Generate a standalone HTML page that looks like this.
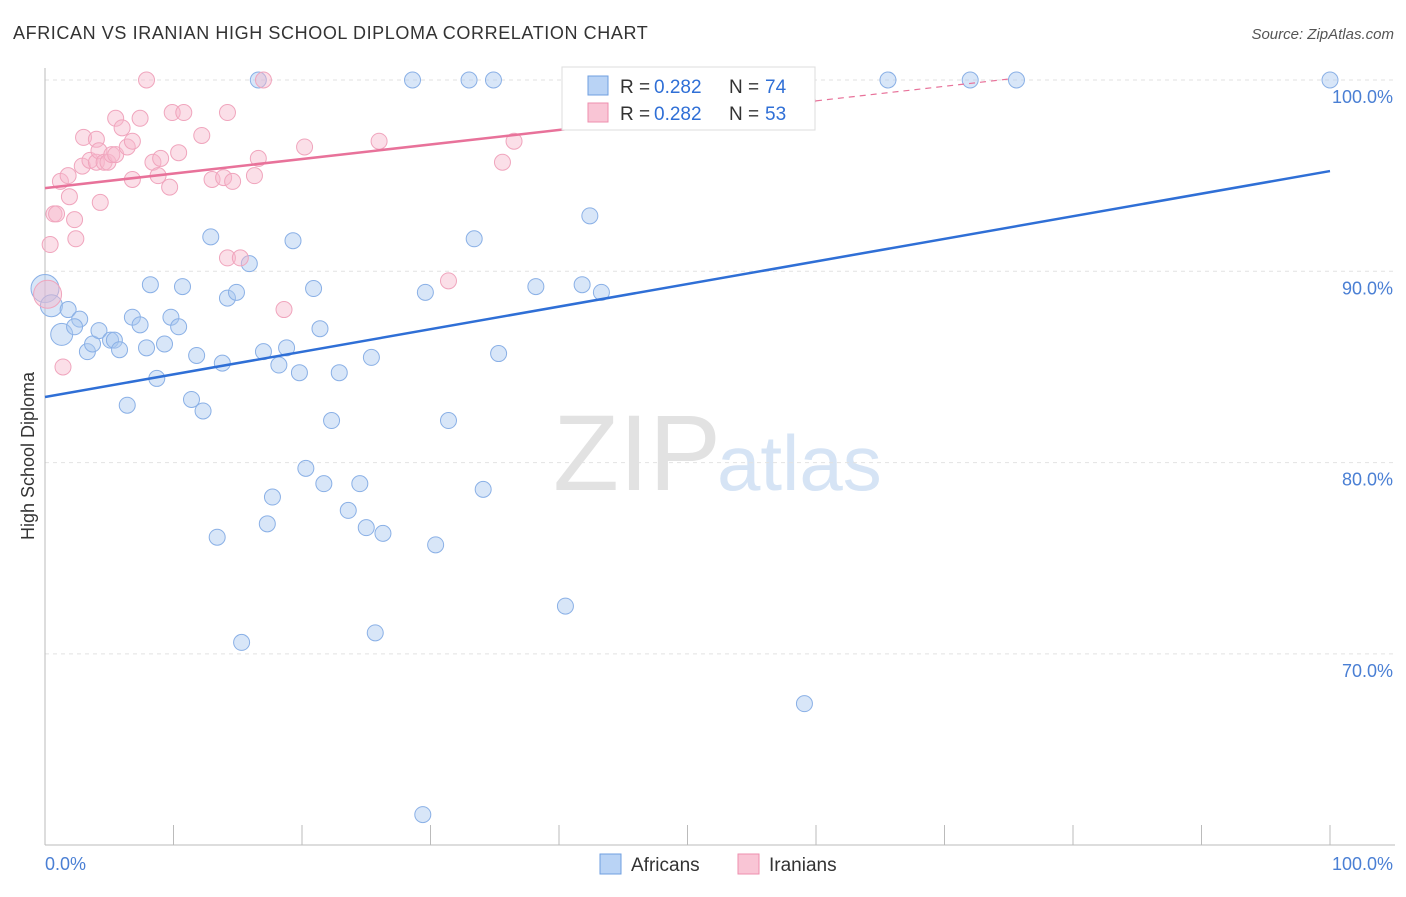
<!DOCTYPE html>
<html><head><meta charset="utf-8"><style>
body{margin:0;background:#fff;font-family:"Liberation Sans",sans-serif;}
svg text{font-family:"Liberation Sans",sans-serif;}
</style></head><body>
<svg id="c" width="1406" height="892">
<text x="13" y="39" font-size="18" fill="#333" letter-spacing="0.6">AFRICAN VS IRANIAN HIGH SCHOOL DIPLOMA CORRELATION CHART</text>
<text x="1394" y="39" font-size="15" fill="#555" font-style="italic" text-anchor="end">Source: ZipAtlas.com</text>
<text x="34" y="456" font-size="18" fill="#333" text-anchor="middle" transform="rotate(-90 34 456)">High School Diploma</text>
<g>
<text x="553" y="490" font-size="108" fill="#e2e2e2" font-family="Liberation Serif">ZIP</text>
<text x="717" y="490" font-size="78" fill="#d6e4f5">atlas</text>
</g>
<g id="grid"></g><g id="pts"></g><g id="lines"></g>
<g>
<rect x="562" y="67" width="253" height="63" fill="#fff" stroke="#ddd"/>
<rect x="588" y="76" width="20" height="19" fill="#b9d3f5" stroke="#6f9fe0"/>
<rect x="588" y="103" width="20" height="19" fill="#f9c5d5" stroke="#ee8fae"/>
<g font-size="19">
<text x="620" y="93" fill="#333">R =</text><text x="654" y="93" fill="#2f6fd6">0.282</text>
<text x="729" y="93" fill="#333">N =</text><text x="765" y="93" fill="#2f6fd6">74</text></g>
<g font-size="19">
<text x="620" y="120" fill="#333">R =</text><text x="654" y="120" fill="#2f6fd6">0.282</text>
<text x="729" y="120" fill="#333">N =</text><text x="765" y="120" fill="#2f6fd6">53</text></g>
</g>
<g>
<rect x="600" y="854" width="21" height="20" fill="#b9d3f5" stroke="#6f9fe0"/>
<text x="631" y="871" font-size="19" fill="#333">Africans</text>
<rect x="738" y="854" width="21" height="20" fill="#f9c5d5" stroke="#ee8fae"/>
<text x="769" y="871" font-size="19" fill="#333">Iranians</text>
</g>
</svg>
<script>
const yTicks=[100,90,80,70];
const yTickLabels=["100.0%","90.0%","80.0%","70.0%"];
const africanX=[0,0.5,1.3,1.8,2.7,2.3,3.3,3.7,4.2,5.1,5.4,5.8,6.4,6.8,7.4,7.9,8.2,8.7,9.3,9.8,10.4,10.7,11.4,11.8,12.3,12.9,13.4,13.8,14.2,14.9,15.3,15.9,16.6,17.0,17.3,17.7,18.2,18.8,19.3,19.8,20.3,20.9,21.4,21.7,22.3,22.9,23.6,24.5,25.0,25.4,25.7,26.3,28.6,29.4,29.6,30.4,31.4,33.0,33.4,34.1,34.9,35.3,38.2,40.5,41.8,42.4,43.3,52.3,55.5,59.1,65.6,72.0,75.6,100];
const africanY=[89.1,88.2,86.7,88.0,87.5,87.1,85.8,86.2,86.9,86.4,86.4,85.9,83.0,87.6,87.2,86.0,89.3,84.4,86.2,87.6,87.1,89.2,83.3,85.6,82.7,91.8,76.1,85.2,88.6,88.9,70.6,90.4,100,85.8,76.8,78.2,85.1,86.0,91.6,84.7,79.7,89.1,87.0,78.9,82.2,84.7,77.5,78.9,76.6,85.5,71.1,76.3,100,61.6,88.9,75.7,82.2,100,91.7,78.6,100,85.7,89.2,72.5,89.3,92.9,88.9,100,99.1,67.4,100,100,100,100];
const iranianX=[0.2,0.4,0.7,0.9,1.4,1.2,1.8,1.9,2.3,2.4,3.0,2.9,3.5,4.0,4.0,4.3,4.2,4.6,4.9,5.2,5.5,5.5,6.0,6.4,6.8,6.8,7.4,7.9,8.4,8.8,9.0,9.7,9.9,10.4,10.8,12.2,13.0,13.9,14.2,14.2,14.6,15.2,16.3,16.6,17.0,18.6,20.2,26.0,31.4,35.6,36.5];
const iranianY=[88.8,91.4,93.0,93.0,85.0,94.7,95.0,93.9,92.7,91.7,97.0,95.5,95.8,96.9,95.7,93.6,96.3,95.7,95.7,96.1,98.0,96.1,97.5,96.5,94.8,96.8,98.0,100,95.7,95.0,95.9,94.4,98.3,96.2,98.3,97.1,94.8,94.9,98.3,90.7,94.7,90.7,95.0,95.9,100,88.0,96.5,96.8,89.5,95.7,96.8];
const africanTrend=[83.43,95.24];
const iranianTrend=[94.35,101.95];
const X=v=>45+v*12.85, Y=v=>80+(100-v)*19.13;
const NS="http://www.w3.org/2000/svg";
function mk(t,a,p){const e=document.createElementNS(NS,t);for(const k in a)e.setAttribute(k,a[k]);p.appendChild(e);return e;}
const g=document.getElementById('grid');
yTicks.forEach((t,i)=>{
 const l=mk('line',{x1:45,x2:1395,y1:Y(t),y2:Y(t),stroke:'#e2e2e2','stroke-dasharray':'4,4'},g);
 
 
 const tx=mk('text',{x:1393,y:Y(t)+23,'font-size':18,fill:'#4a7fd4','text-anchor':'end'},g);
 tx.textContent=yTickLabels[i];
 
 
});
const ax=mk('line',{x1:45,x2:45,y1:68,y2:845,stroke:'#bbb'},g);


const bx=mk('line',{x1:45,x2:1395,y1:845,y2:845,stroke:'#bbb'},g);


for(let i=0;i<=10;i++){const t=mk('line',{x1:X(i*10),x2:X(i*10),y1:825,y2:845,stroke:'#bbb'},g);
 
 }
[["0.0%",45,'start'],["100.0%",1393,'end']].forEach(a=>{const t=mk('text',{x:a[1],y:870,'font-size':18,fill:'#4a7fd4','text-anchor':a[2]},g);t.textContent=a[0];
 
 });
const p=document.getElementById('pts');
africanX.forEach((x,i)=>{const r=i<3?(i==0?14:11):8;
 const c=mk('circle',{cx:X(x),cy:Y(africanY[i]),r:r,fill:'rgba(169,200,240,0.45)',stroke:'#8ab0e6','stroke-width':1},p);
 
 });
iranianX.forEach((x,i)=>{const r=i==0?14:8;
 const c=mk('circle',{cx:X(x),cy:Y(iranianY[i]),r:r,fill:'rgba(247,184,204,0.45)',stroke:'#f0a5bd','stroke-width':1},p);
 
 });
const L=document.getElementById('lines');
const b=mk('line',{x1:X(0),y1:Y(africanTrend[0]),x2:X(100),y2:Y(africanTrend[1]),stroke:'#2f6fd6','stroke-width':2.5},L);


const f=x=>iranianTrend[0]+(iranianTrend[1]-iranianTrend[0])*x/100;
const s=mk('line',{x1:X(0),y1:Y(f(0)),x2:X(60),y2:Y(f(60)),stroke:'#e8729a','stroke-width':2.5},L);


const d=mk('line',{x1:X(60),y1:Y(f(60)),x2:X(75),y2:Y(f(75)),stroke:'#e8729a','stroke-width':1.2,'stroke-dasharray':'6,5'},L);


</script>
</body></html>
